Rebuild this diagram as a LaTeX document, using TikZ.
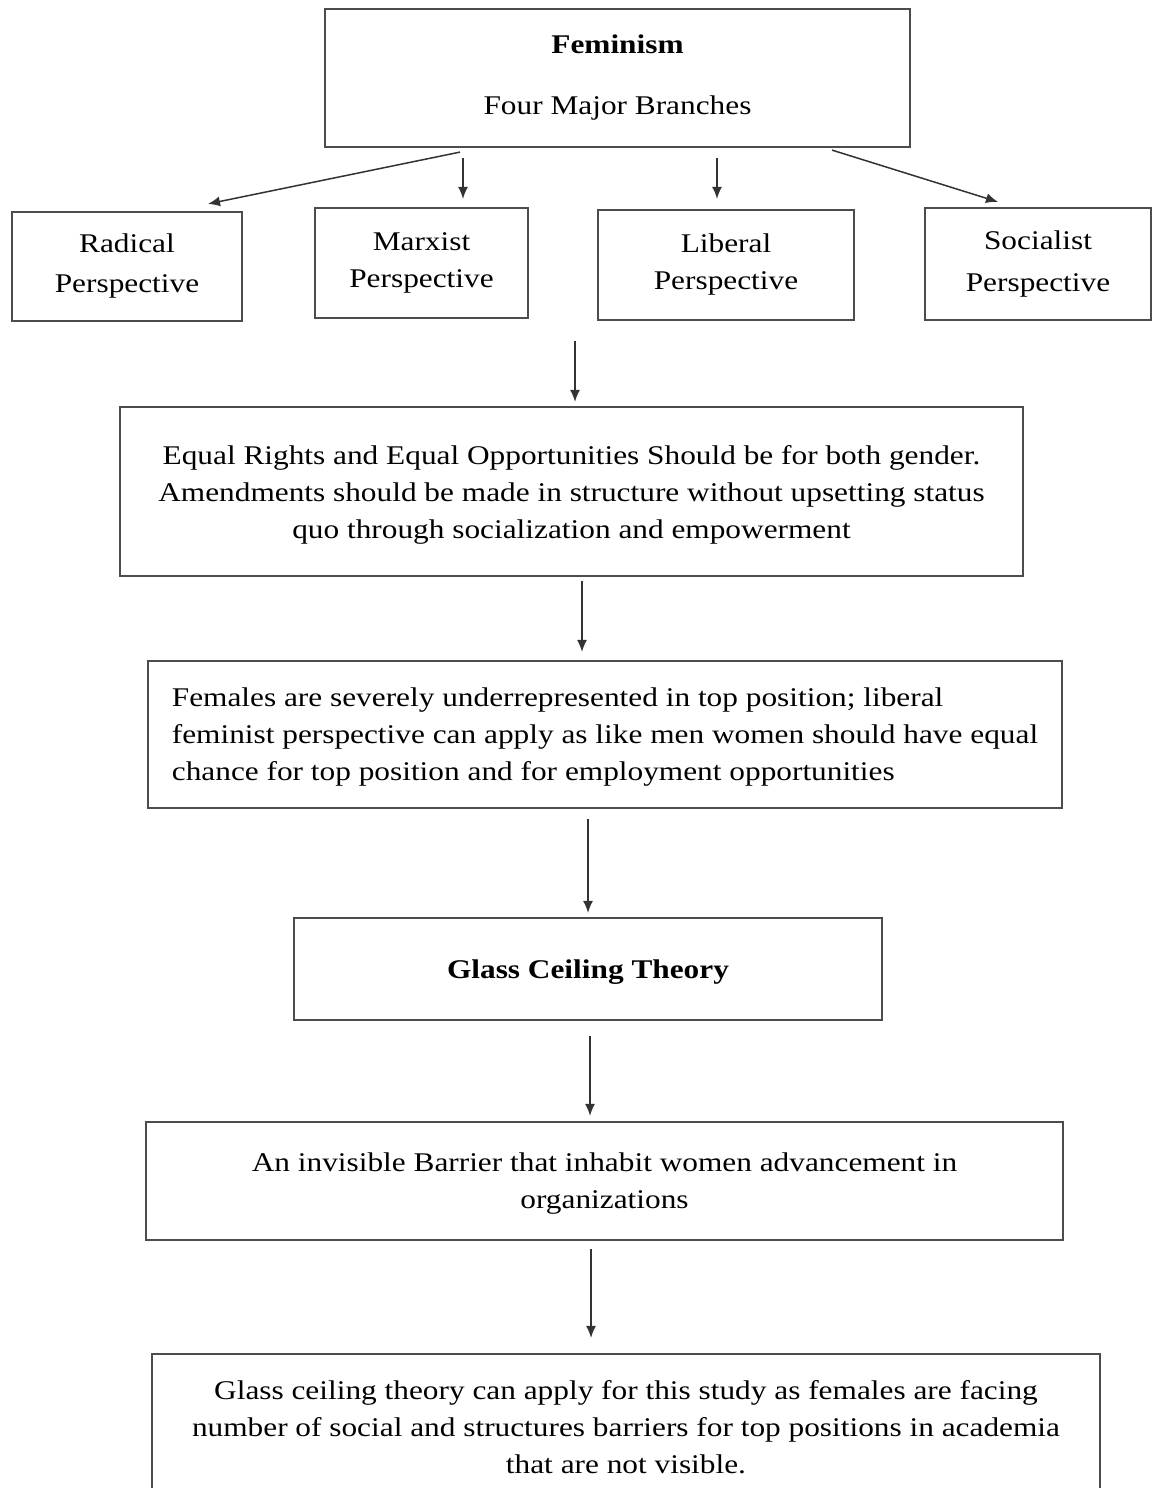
\documentclass[tikz,border=0pt]{standalone}
\usepackage{fontspec}
\setmainfont{Liberation Serif}[FakeStretch=1.16]
\usetikzlibrary{arrows.meta,calc}
\begin{document}
\begin{tikzpicture}[x=0.5pt,y=-0.5pt,
  box/.style={draw=black!70, line width=1.1pt, fill=white, inner sep=0pt, font=\fontsize{13.5pt}{18.5pt}\selectfont, align=center},
  lowtext/.style={text depth=-2pt},
  conn/.style={draw=black!80, line width=0.75pt, -{Latex[length=6pt,width=5pt]}}]
\fill[white] (0,0) rectangle (1153,1488);
\useasboundingbox (0,0) rectangle (1153,1488);
\clip (0,0) rectangle (1153,1488);
\node[box, minimum width=292.5pt, minimum height=69pt] (fem) at (617.5,78)
  {\textbf{Feminism}\\[12pt]Four Major Branches};
\node[box, minimum width=115pt, minimum height=54.5pt, font=\fontsize{13.5pt}{20pt}\selectfont] (rad) at (127,266.5) {Radical\\Perspective};
\node[box, minimum width=106.5pt, minimum height=55pt] (mar) at (421.5,263) {Marxist\\Perspective};
\node[box, minimum width=128pt, minimum height=55pt] (lib) at (726,265) {Liberal\\Perspective};
\node[box, minimum width=113pt, minimum height=56pt, font=\fontsize{13.5pt}{21pt}\selectfont] (soc) at (1038,264) {Socialist\\Perspective};
\node[box, lowtext, minimum width=451.5pt, minimum height=84.5pt] (b1) at (571.5,491.5)
  {Equal Rights and Equal Opportunities Should be for both gender.\\Amendments should be made in structure without upsetting status\\quo through socialization and empowerment};
\node[box, lowtext, minimum width=457pt, minimum height=73.5pt, align=left] (b2) at (605,734.5)
  {Females are severely underrepresented in top position; liberal\\feminist perspective can apply as like men women should have equal\\chance for top position and for employment opportunities};
\node[box, lowtext, minimum width=294pt, minimum height=51pt] (glass) at (588,969) {\textbf{Glass Ceiling Theory}};
\node[box, lowtext, minimum width=458.5pt, minimum height=59pt] (inv) at (604.5,1181)
  {An invisible Barrier that inhabit women advancement in\\organizations};
\node[box, minimum width=474pt, minimum height=73pt] (fin) at (626,1427)
  {Glass ceiling theory can apply for this study as females are facing\\number of social and structures barriers for top positions in academia\\that are not visible.};
\draw[conn] ($(fem.south)+(-157.5,4)$) -- ($(rad.north)+(81,-7)$);
\draw[conn] ($(fem.south)+(-154.5,10)$) -- ($(mar.north)+(41.5,-8)$);
\draw[conn] ($(fem.south)+(99.5,10)$) -- ($(lib.north)+(-9,-10)$);
\draw[conn] ($(fem.south)+(214.5,2)$) -- ($(soc.north)+(-40,-5)$);
\draw[conn] ($(lib.south)+(-151,20)$) -- ($(b1.north)+(3.5,-4)$);
\draw[conn] ($(b1.south)+(10.5,4)$) -- ($(b2.north)+(-23,-8)$);
\draw[conn] ($(b2.south)+(-17,10)$) -- ($(glass.north)+(0,-4)$);
\draw[conn] ($(glass.south)+(2,15)$) -- ($(inv.north)+(-14.5,-5)$);
\draw[conn] ($(inv.south)+(-13.5,8)$) -- ($(fin.north)+(-35,-15)$);
\end{tikzpicture}
\end{document}
